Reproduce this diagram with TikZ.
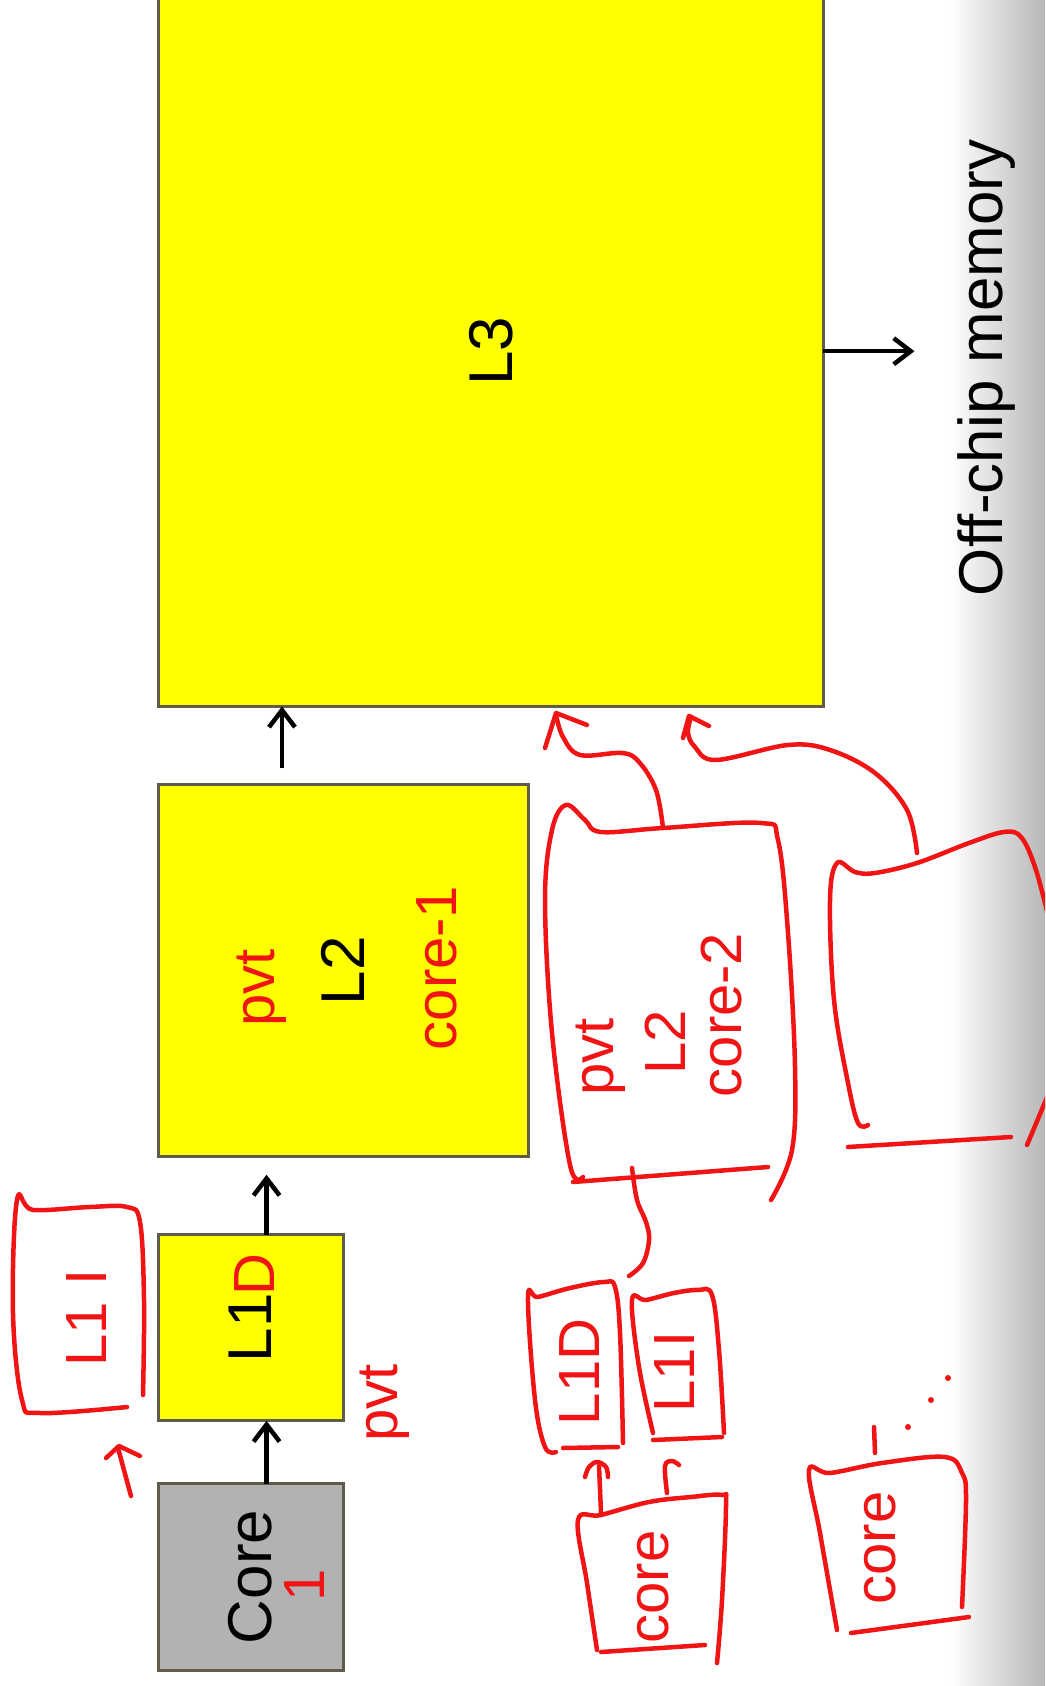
\documentclass[tikz,border=0pt]{standalone}
\usepackage{fontspec}
\setmainfont{Liberation Sans}
\usetikzlibrary{arrows.meta, positioning, calc}
\definecolor{cacheyellow}{RGB}{255,255,0}
\definecolor{coregray}{RGB}{178,178,178}
\definecolor{boxline}{RGB}{95,92,75}
\definecolor{inkred}{RGB}{240,20,20}
\newcommand{\vtext}[1]{\rotatebox{90}{#1}}
\tikzset{
  cache/.style={rectangle, draw=boxline, line width=0.03cm, fill=#1,
                inner sep=0pt, outer sep=0pt, minimum width=1.85cm, minimum height=1.86cm,
                font=\fontsize{17.6}{20}\selectfont},
  cache/.default=cacheyellow,
  arr/.style={-{Straight Barb[length=0.17cm, width=0.26cm]}, line width=0.045cm, black},
  scrawl/.style={draw=inkred, line width=0.045cm, line cap=round, line join=round},
  scribble/.style={text=inkred, rotate=90, inner sep=0pt,
                   font=\fontsize{16.5}{18}\selectfont},
  offchip/.style={rotate=90, inner sep=0pt, font=\fontsize{17.6}{20}\selectfont},
}
\begin{document}
\begin{tikzpicture}[x=0.01cm, y=-0.01cm]
  \clip (0,0) rectangle (1045,1686);
  \fill[white] (0,0) rectangle (1045,1686);
  \shade[left color=white, right color=black!28] (950,0) rectangle (1045,1686);
  %% slide: cache hierarchy
  \node[cache=coregray, anchor=south west] (core) at (158,1670) {\vtext{Core}};
  \node[cache, above=0.63cm of core] (l1d) {\vtext{L1}};
  \node[cache, minimum width=3.7cm, minimum height=3.72cm,
        above=0.78cm of l1d.north west, anchor=south west] (l2) {\vtext{L2}};
  \node[cache, minimum width=6.65cm, minimum height=7.1cm,
        above=0.78cm of l2.north west, anchor=south west] (l3) {\vtext{L3}};
  \node[offchip] (mem) at (986,368) {Off-chip memory};
  \draw[arr] ($(core.north)+(16,0)$) -- ($(l1d.south)+(16,0)$);
  \coordinate (up1) at ($(l1d.north)+(16,0)$);
  \draw[arr, shorten >=0.18cm] (up1) -- (up1 |- l2.south);
  \coordinate (up2) at ($(l2.north west)+(124,0)$);
  \draw[arr, shorten <=0.16cm] (up2) -- (up2 |- l3.south);
  \draw[arr, shorten >=0.42cm] (l3.east) -- (l3.east -| mem.north);
  %% handwritten notes
  \node[scribble] (one)    at (305,1585) {1};
  \node[scribble] (dmark)  at (255,1275) {D};
  \node[scribble] (pvtl1)  at (385,1403) {pvt};
  \node[scribble] (l1itxt) at (87,1318)  {L1 I};
  \node[scribble] (pvtl2)  at (262,988)  {pvt};
  \node[scribble] (owner1) at (437,968)  {core-1};
  \node[scribble] (pvtb)   at (601,1057) {pvt};
  \node[scribble] (l2b)    at (665,1042) {L2};
  \node[scribble] (owner2) at (722,1015) {core-2};
  \node[scribble] (l1db)   at (580,1372) {L1D};
  \node[scribble] (l1ib)   at (675,1372) {L1I};
  \node[scribble] (coreb)  at (653,1587) {core};
  \node[scribble] (corec)  at (880,1548) {core};
  % L1 I box and its arrow
  \draw[scrawl] plot[smooth, tension=0.6] coordinates {(127,1407) (40,1413) (22,1400)
    (13,1313) (17,1200) (33,1210) (90,1207) (127,1207) (140,1222) (144,1300) (143,1395)};
  \draw[scrawl] (131,1496) -- (118,1448);
  \draw[scrawl] (106,1458) -- (119,1446) -- (140,1456);
  % second L2 box
  \draw[scrawl] plot[smooth, tension=0.6] coordinates {(583,1177) (570,1165) (552,1033)
    (545,900) (552,830) (566,805) (585,820) (601,832) (663,828) (761,823) (778,840)
    (788,933) (795,1067) (792,1150) (771,1200)};
  \draw[scrawl] (573,1182) -- (768,1167);
  \draw[scrawl] plot[smooth, tension=0.6] coordinates {(663,828) (656,790) (639,762)
    (622,753) (580,755) (563,737) (556,715)};
  \draw[scrawl] (545,748) -- (556,713) -- (587,725);
  % third L2 box
  \draw[scrawl] plot[smooth, tension=0.6] coordinates {(868,1125) (858,1123) (848,1083)
    (834,1000) (830,900) (837,863) (855,872) (875,873) (917,863) (969,843) (1004,832)
    (1021,837) (1035,867) (1048,915)};
  \draw[scrawl] (848,1147) -- (1011,1137);
  \draw[scrawl] (1027,1145) -- (1048,1095);
  \draw[scrawl] plot[smooth, tension=0.6] coordinates {(917,853) (907,810) (875,773)
    (830,750) (788,745) (716,760) (695,747) (688,733) (691,717)};
  \draw[scrawl] (683,738) -- (689,716) -- (709,726);
  % link down to the small boxes
  \draw[scrawl] plot[smooth, tension=0.6] coordinates {(632,1168) (637,1200) (646,1222)
    (649,1240) (643,1263) (629,1276)};
  % small L1D and L1I boxes
  \draw[scrawl] plot[smooth, tension=0.6] coordinates {(556,1452) (545,1447) (535,1400)
    (528,1297) (538,1297) (570,1288) (604,1282) (615,1287) (620,1333) (623,1443)};
  \draw[scrawl] (563,1448) -- (618,1447);
  \draw[scrawl] plot[smooth, tension=0.6] coordinates {(653,1433) (639,1367) (632,1300)
    (646,1300) (674,1293) (698,1290) (712,1295) (719,1350) (724,1433)};
  \draw[scrawl] (653,1440) -- (722,1437);
  % core to L1D / L1I
  \draw[scrawl] (601,1513) -- (599,1466);
  \draw[scrawl] plot[smooth, tension=0.6] coordinates {(585,1477) (589,1467) (597,1462)
    (606,1467) (608,1477)};
  \draw[scrawl] plot[smooth, tension=0.6] coordinates {(667,1493) (665,1466) (672,1461)
    (679,1465)};
  % core boxes
  \draw[scrawl] plot[smooth, tension=0.6] coordinates {(597,1650) (587,1583) (578,1520)
    (601,1515) (649,1502) (691,1497) (722,1495) (726,1505) (722,1600) (717,1663)};
  \draw[scrawl] (601,1652) -- (705,1645);
  \draw[scrawl] plot[smooth, tension=0.6] coordinates {(837,1630) (820,1533) (809,1470)
    (830,1473) (882,1463) (945,1457) (962,1473) (966,1500) (962,1607)};
  \draw[scrawl] (851,1633) -- (969,1617);
  \draw[scrawl] (874,1427) -- (875,1453);
  \foreach \p in {(908,1427),(931,1400),(948,1378)}
    \fill[inkred] \p circle[radius=0.03cm];
\end{tikzpicture}
\end{document}
